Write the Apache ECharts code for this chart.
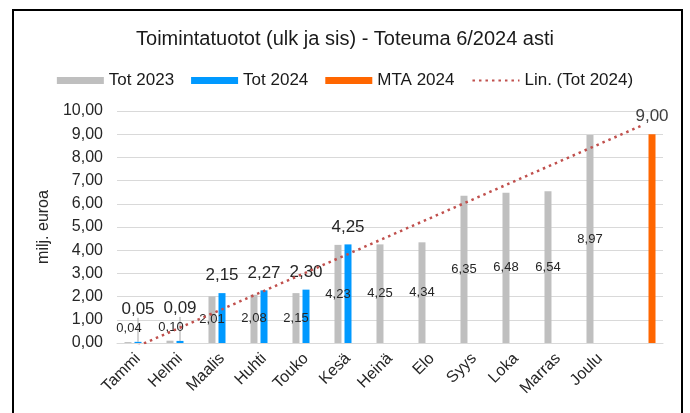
<!DOCTYPE html>
<html>
<head>
<meta charset="utf-8">
<script src="https://cdn.jsdelivr.net/npm/echarts@6/dist/echarts.min.js"></script>
<style>
html,body{margin:0;padding:0;background:#fff;}
#c{width:690px;height:413px;}
</style>
</head>
<body>
<div id="c"></div>
<script>
var categories = ['Tammi','Helmi','Maalis','Huhti','Touko','Kesä','Heinä','Elo','Syys','Loka','Marras','Joulu',''];
var tot2023 = [0.04, 0.10, 2.01, 2.08, 2.15, 4.23, 4.25, 4.34, 6.35, 6.48, 6.54, 8.97, null];
var tot2024 = [0.05, 0.09, 2.15, 2.27, 2.30, 4.25, null, null, null, null, null, null, null];
var mta2024 = [null, null, null, null, null, null, null, null, null, null, null, null, 9.00];
// linear trend of Tot 2024 at first and last category
var trendEnds = [-0.13, 9.38];
var yTicks = [0, 1, 2, 3, 4, 5, 6, 7, 8, 9, 10];

function fi(v){ return v.toFixed(2).replace('.', ','); }
var FONT = 'Liberation Sans, Arial, sans-serif';

var chart = echarts.init(document.getElementById('c'));

var grayData = tot2023.map(function(v){
  var o = {value: v};
  if (v !== null && v < 0.5) o.label = {offset: [1, -14]};
  return o;
});
var blueData = tot2024.map(function(v){
  var o = {value: v};
  if (v !== null && v < 0.5) o.labelLine = {show: true};
  return o;
});
var trendData = [[0, trendEnds[0]], [categories.length - 1, trendEnds[1]]];

chart.setOption({
  animation: false,
  textStyle: {fontFamily: FONT},
  title: {
    text: 'Toimintatuotot (ulk ja sis) - Toteuma 6/2024 asti',
    left: 'center', top: 24,
    textStyle: {fontSize: 20, fontWeight: 'normal', color: '#1a1a1a', fontFamily: FONT}
  },
  legend: {
    top: 67, left: 'center',
    itemWidth: 47, itemHeight: 7, itemGap: 17,
    textStyle: {fontSize: 17, color: '#1a1a1a', fontFamily: FONT},
    data: [
      {name: 'Tot 2023', icon: 'rect'},
      {name: 'Tot 2024', icon: 'rect'},
      {name: 'MTA 2024', icon: 'rect'},
      {name: 'Lin. (Tot 2024)', itemStyle: {opacity: 0}}
    ]
  },
  graphic: [{
    type: 'rect', shape: {x: 13, y: 10, width: 669, height: 420},
    style: {fill: 'none', stroke: '#000', lineWidth: 2}, z: 100, silent: true
  }],
  grid: {left: 117, right: 27, top: 111, bottom: 70},
  xAxis: {
    type: 'category', data: categories,
    axisLine: {lineStyle: {color: '#d9d9d9', width: 1}},
    axisTick: {show: false},
    axisLabel: {rotate: 45, fontSize: 16, color: '#262626', margin: 13, interval: 0, fontFamily: FONT}
  },
  yAxis: {
    type: 'value', min: yTicks[0], max: yTicks[yTicks.length - 1], interval: 1,
    name: 'milj. euroa', nameLocation: 'middle', nameGap: 59, nameRotate: 90,
    nameTextStyle: {fontSize: 16, color: '#262626', fontFamily: FONT},
    axisLine: {show: false}, axisTick: {show: false},
    splitLine: {lineStyle: {color: '#d9d9d9', width: 1}},
    axisLabel: {fontSize: 16, color: '#262626', margin: 14, formatter: function(v){ return fi(v); }}
  },
  series: [
    {
      name: 'Tot 2023', type: 'bar', data: grayData, barWidth: 7, barGap: '43%',
      itemStyle: {color: '#bfbfbf'},
      label: {show: true, position: 'inside', fontSize: 13, color: '#262626',
        formatter: function(p){ return fi(p.value); }}
    },
    {
      name: 'Tot 2024', type: 'bar', data: blueData, barWidth: 7, barGap: '43%',
      itemStyle: {color: '#0099ff'},
      label: {show: true, position: 'top', distance: 9, fontSize: 17, color: '#262626',
        formatter: function(p){ return fi(p.value); }},
      labelLine: {show: false, lineStyle: {color: '#a6a6a6', width: 1}},
      labelLayout: function(params){
        return (tot2024[params.dataIndex] !== null && tot2024[params.dataIndex] < 0.5) ? {dy: -15} : {};
      }
    },
    {
      name: 'MTA 2024', type: 'bar', data: mta2024, barWidth: 7, barGap: '43%',
      itemStyle: {color: '#ff6600'},
      label: {show: true, position: 'top', distance: 9, fontSize: 17, color: '#404040',
        formatter: function(p){ return fi(p.value); }}
    },
    {
      name: 'Lin. (Tot 2024)', type: 'line', data: trendData, symbol: 'none', clip: true,
      lineStyle: {color: '#c0504d', width: 2.5, type: [2.5, 4]},
      itemStyle: {color: '#c0504d'}, z: 5
    }
  ]
});
</script>
</body>
</html>
